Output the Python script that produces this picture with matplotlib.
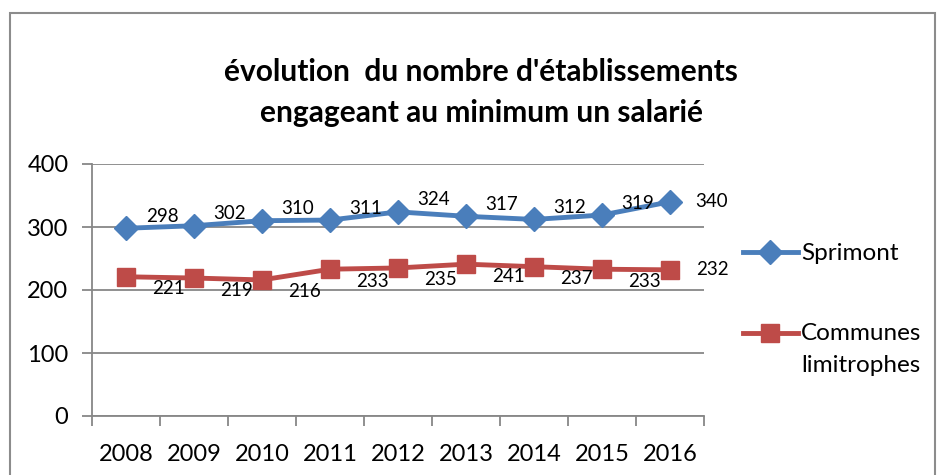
import matplotlib.pyplot as plt
from matplotlib.patches import Rectangle
from matplotlib.lines import Line2D

years = ["2008", "2009", "2010", "2011", "2012", "2013", "2014", "2015", "2016"]
sprimont = [298, 302, 310, 311, 324, 317, 312, 319, 340]
communes = [221, 219, 216, 233, 235, 241, 237, 233, 232]
y_ticks = [0, 100, 200, 300, 400]

BLUE = "#4A7EBB"
RED = "#BE4B48"
GRID = "#878787"
FONT = ["Lato", "DejaVu Sans"]

plt.rcParams["font.family"] = FONT

fig = plt.figure(figsize=(9.4, 4.75), dpi=100)
W, H = 940, 475

# outer chart frame
fig.patches.append(Rectangle((10 / W, -0.05), 925 / W, 1.05 - 13 / H,
                             transform=fig.transFigure, fill=False,
                             edgecolor="#8c8c8c", linewidth=1.5))

ax = fig.add_axes([92 / W, (H - 416) / H, 612 / W, 252 / H])

x = list(range(len(years)))
ax.plot(x, sprimont, color=BLUE, linewidth=3.5, marker="D", markersize=12,
        zorder=3)
ax.plot(x, communes, color=RED, linewidth=3.5, marker="s", markersize=13.5,
        zorder=3)

# data labels
for i, v in enumerate(sprimont):
    dx, dy = (42, 0) if i == len(x) - 1 else (36, 12)
    ax.annotate(str(v), (i, v), xytext=(dx, dy), textcoords="offset pixels",
                ha="center", va="center", fontsize=13.5, zorder=4)
for i, v in enumerate(communes):
    dx, dy = (42, 0) if i == len(x) - 1 else (42, -12)
    ax.annotate(str(v), (i, v), xytext=(dx, dy), textcoords="offset pixels",
                ha="center", va="center", fontsize=13.5, zorder=4)

ax.set_xlim(-0.5, len(x) - 0.5)
ax.set_ylim(0, 400)
ax.set_yticks(y_ticks)
ax.set_xticks(x)
ax.set_xticklabels(years)
ax.set_xticks([i - 0.5 for i in range(len(x) + 1)], minor=True)
ax.tick_params(axis="x", which="major", length=0, pad=20, labelsize=17)
ax.tick_params(axis="x", which="minor", length=7, width=1.3, color=GRID)
ax.tick_params(axis="y", length=7, width=1.3, color=GRID, labelsize=17, pad=10)
ax.grid(axis="y", color=GRID, linewidth=1.3)
ax.set_axisbelow(True)
for s in ["top", "right"]:
    ax.spines[s].set_visible(False)
for s in ["left", "bottom"]:
    ax.spines[s].set_color(GRID)
    ax.spines[s].set_linewidth(1.3)

fig.text(481 / W, 1 - 72 / H, "évolution  du nombre d'établissements",
         ha="center", va="center", fontsize=21.5, fontweight="bold")
fig.text(481 / W, 1 - 113 / H, "engageant au minimum un salarié",
         ha="center", va="center", fontsize=21.5, fontweight="bold")

# legend drawn by hand so the marker sits on the first text line
legend_items = [(["Sprimont"], BLUE, "D", 12, 252),
                (["Communes", "limitrophes"], RED, "s", 13.5, 333)]
for lines, col, mk, ms, yp in legend_items:
    fig.add_artist(Line2D([743 / W, 798 / W], [1 - yp / H] * 2, color=col,
                          linewidth=3.5, transform=fig.transFigure))
    fig.add_artist(Line2D([770 / W], [1 - yp / H], color=col, marker=mk,
                          markersize=ms, transform=fig.transFigure))
    for k, txt in enumerate(lines):
        fig.text(801 / W, 1 - (yp + 1 + 32 * k) / H, txt, ha="left",
                 va="center", fontsize=17.5)

fig.savefig("out.png", dpi=100)
